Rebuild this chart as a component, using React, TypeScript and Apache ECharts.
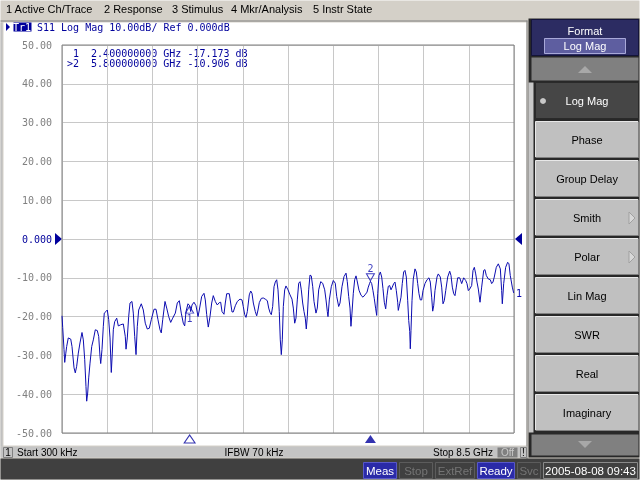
import React, { useEffect, useRef } from 'react';
import * as echarts from 'echarts';

// ---- data ----
const menuLabels = ['1 Active Ch/Trace', '2 Response', '3 Stimulus', '4 Mkr/Analysis', '5 Instr State'];
const softkeyLabels = ['Log Mag', 'Phase', 'Group Delay', 'Smith', 'Polar', 'Lin Mag', 'SWR', 'Real', 'Imaginary'];
const softkeysWithSubmenu = ['Smith', 'Polar'];
const activeFormat = 'Log Mag';

const traceHeader = 'S11 Log Mag 10.00dB/ Ref 0.000dB';
const stimulusStart = 'Start 300 kHz';
const stimulusIfbw = 'IFBW 70 kHz';
const stimulusStop = 'Stop 8.5 GHz';
const statusFlags = ['Meas', 'Stop', 'ExtRef', 'Ready', 'Svc'];
const statusLit = ['Meas', 'Ready'];
const clockText = '2005-08-08 09:43';

const yTicks = [-50, -40, -30, -20, -10, 0, 10, 20, 30, 40, 50];
const refLevel = 0;

const markers = [
  { id: '1', freq: 2.4, value: -17.173, active: false },
  { id: '2', freq: 5.8, value: -10.906, active: true },
];

// S11 trace: [GHz, dB]
const s11Trace: [number, number][] = [
  [0.0003,-19.8],[0.013,-22.8],[0.038,-28.5],[0.051,-31.8],[0.070,-29.6],[0.088,-27.7],[0.118,-25.5],[0.164,-25.8],[0.188,-27.7],[0.226,-33.2],
  [0.250,-34.5],[0.276,-32.8],[0.307,-29.4],[0.338,-26.8],[0.376,-24.1],[0.401,-26.0],[0.427,-31.1],[0.451,-38.0],[0.464,-41.8],[0.483,-39.7],
  [0.502,-35.8],[0.527,-32.0],[0.559,-27.7],[0.589,-26.0],[0.626,-23.4],[0.664,-23.6],[0.690,-25.1],[0.715,-30.3],[0.728,-32.1],[0.752,-28.5],
  [0.777,-22.5],[0.795,-19.1],[0.827,-18.7],[0.852,-18.3],[0.878,-20.8],[0.903,-25.5],[0.927,-34.4],[0.946,-29.4],[0.965,-23.4],[0.991,-21.3],
  [1.029,-20.4],[1.059,-22.4],[1.104,-22.1],[1.153,-21.9],[1.190,-25.1],[1.204,-28.4],[1.228,-25.5],[1.254,-20.0],[1.279,-16.5],[1.316,-16.1],
  [1.341,-19.1],[1.367,-25.1],[1.392,-29.8],[1.416,-22.5],[1.442,-18.3],[1.491,-16.7],[1.529,-18.3],[1.566,-21.7],[1.604,-23.2],[1.642,-23.0],
  [1.679,-20.8],[1.730,-18.1],[1.768,-18.1],[1.805,-20.8],[1.843,-23.4],[1.867,-24.2],[1.894,-20.8],[1.937,-16.1],[1.969,-17.8],[2.006,-20.0],
  [2.044,-21.5],[2.082,-20.4],[2.131,-19.1],[2.168,-16.5],[2.206,-15.9],[2.243,-19.1],[2.281,-21.7],[2.307,-22.4],[2.332,-18.7],[2.369,-16.7],
  [2.400,-17.17],[2.420,-18.7],[2.445,-17.0],[2.482,-16.3],[2.520,-17.2],[2.558,-20.0],[2.582,-18.3],
  [2.627,-14.8],[2.670,-14.0],[2.695,-15.7],[2.721,-19.5],[2.751,-22.7],[2.783,-20.0],[2.815,-16.5],[2.845,-14.6],[2.883,-16.1],[2.920,-17.0],
  [2.958,-16.4],[2.984,-16.3],[3.009,-18.7],[3.046,-19.4],[3.071,-16.5],[3.097,-14.1],[3.146,-14.1],[3.172,-16.5],[3.197,-18.8],[3.221,-18.8],
  [3.259,-17.2],[3.297,-16.1],[3.347,-15.5],[3.385,-15.7],[3.409,-17.4],[3.436,-19.5],[3.460,-20.2],[3.485,-18.7],[3.522,-14.4],[3.549,-13.4],
  [3.573,-14.0],[3.598,-16.5],[3.635,-18.7],[3.661,-19.8],[3.686,-18.3],[3.710,-16.4],[3.748,-15.3],[3.785,-15.2],[3.823,-15.5],[3.861,-15.9],
  [3.887,-17.8],[3.911,-18.9],[3.936,-19.5],[3.962,-17.4],[3.987,-12.3],[4.011,-11.1],[4.037,-10.5],[4.062,-13.1],[4.086,-18.7],[4.105,-26.0],
  [4.124,-29.8],[4.143,-26.0],[4.162,-17.4],[4.188,-13.1],[4.212,-12.1],[4.250,-13.1],[4.288,-14.4],[4.325,-15.5],[4.350,-17.8],[4.376,-21.7],
  [4.400,-20.4],[4.425,-15.7],[4.451,-11.4],[4.476,-11.0],[4.500,-13.1],[4.526,-16.5],[4.551,-18.7],[4.575,-20.4],[4.594,-23.2],[4.613,-20.0],
  [4.639,-13.1],[4.664,-9.3],[4.688,-9.5],[4.715,-12.3],[4.739,-16.1],[4.776,-19.1],[4.801,-17.8],[4.827,-13.1],[4.865,-11.0],[4.902,-11.4],
  [4.940,-13.1],[4.965,-15.7],[4.989,-18.7],[5.002,-20.0],[5.027,-15.7],[5.064,-12.3],[5.102,-10.7],[5.139,-11.4],[5.166,-14.8],[5.203,-17.4],
  [5.228,-16.5],[5.265,-12.3],[5.303,-9.7],[5.341,-8.8],[5.365,-11.0],[5.391,-14.8],[5.416,-17.8],[5.434,-22.5],[5.453,-19.1],[5.478,-14.0],
  [5.504,-10.5],[5.529,-9.5],
  [5.547,-10.6],[5.585,-13.2],[5.623,-14.5],[5.660,-15.0],[5.698,-14.4],[5.736,-13.7],[5.760,-12.4],[5.786,-11.4],[5.800,-10.91],[5.824,-11.5],
  [5.848,-13.3],[5.873,-15.4],[5.899,-18.0],[5.918,-19.7],[5.937,-14.1],[5.961,-9.4],[5.986,-8.5],[6.012,-9.8],[6.036,-12.8],[6.061,-16.3],
  [6.087,-18.0],[6.112,-14.6],[6.136,-12.2],[6.162,-12.0],[6.187,-13.1],[6.211,-12.4],[6.238,-11.5],[6.262,-11.1],[6.287,-13.3],[6.313,-16.3],
  [6.324,-18.4],[6.350,-16.7],[6.375,-15.0],[6.399,-11.5],[6.425,-8.5],[6.450,-8.1],[6.475,-9.8],[6.501,-15.9],[6.520,-21.0],[6.539,-23.8],
  [6.550,-28.3],[6.563,-23.6],[6.582,-15.9],[6.606,-10.3],[6.638,-7.7],[6.663,-8.5],[6.689,-11.5],[6.713,-14.1],[6.738,-15.7],[6.764,-15.7],
  [6.789,-13.3],[6.826,-11.5],[6.864,-10.5],[6.901,-10.0],[6.926,-11.1],[6.952,-15.0],[6.971,-18.6],[6.990,-17.2],[7.014,-13.3],[7.052,-9.8],
  [7.076,-9.0],[7.114,-9.8],[7.140,-12.4],[7.165,-16.7],[7.189,-15.9],[7.216,-13.3],[7.253,-9.8],[7.291,-8.3],[7.315,-9.4],[7.340,-12.4],
  [7.366,-14.1],[7.390,-14.6],[7.415,-12.4],[7.441,-10.0],[7.479,-10.0],[7.516,-11.5],[7.554,-10.0],[7.592,-10.7],[7.616,-11.5],[7.641,-13.3],
  [7.667,-12.9],[7.704,-12.0],[7.729,-8.1],[7.754,-7.3],[7.780,-9.0],[7.804,-11.1],[7.829,-12.9],[7.861,-16.3],[7.892,-12.4],[7.930,-8.1],
  [7.954,-7.9],[7.979,-9.4],[8.016,-10.3],[8.054,-10.5],[8.080,-11.5],[8.105,-11.1],[8.129,-9.8],[8.167,-7.3],[8.205,-6.4],[8.243,-7.7],
  [8.268,-13.3],[8.280,-16.7],[8.306,-11.5],[8.343,-7.3],[8.381,-6.0],[8.405,-6.4],[8.430,-9.4],[8.468,-12.4],[8.494,-13.9],[8.500,-14.0],
];

const TRACE = '#0c0cb0';
const NAVY = '#00009c';
const MONO = '10px "DejaVu Sans Mono", monospace';
const UI = '"Liberation Sans", Arial, sans-serif';

const txt = (x: number, y: number, text: string, fill: string, font: string, align = 'left') => ({
  type: 'text',
  x,
  y,
  silent: true,
  style: { text, fill, font, align, verticalAlign: 'middle', textAlign: align, textVerticalAlign: 'middle' },
});

const box = (x: number, y: number, w: number, h: number, fill: string, stroke?: string) => ({
  type: 'rect',
  silent: true,
  shape: { x: x + 0.5, y: y + 0.5, width: w - 1, height: h - 1 },
  style: { fill, stroke: stroke || 'none', lineWidth: 1 },
});

const bevel = (x: number, y: number, w: number, h: number) => [
  box(x, y, w, h, '#c0c0c0'),
  { type: 'polyline', silent: true, shape: { points: [[x + 0.5, y + h - 1], [x + 0.5, y + 0.5], [x + w - 1, y + 0.5]] }, style: { stroke: '#e8e8e8', lineWidth: 1 } },
  { type: 'polyline', silent: true, shape: { points: [[x + 1, y + h - 0.5], [x + w - 0.5, y + h - 0.5], [x + w - 0.5, y + 1]] }, style: { stroke: '#808080', lineWidth: 1 } },
];

const buildGraphic = () => {
  const els: any[] = [];
  // window background + menu bar
  els.push(box(0, 0, 640, 480, '#d4d0c8'));
  const menuX = [6, 104, 172, 231, 313];
  menuLabels.forEach((m, i) => els.push(txt(menuX[i], 9, m, '#000', `11px ${UI}`)));
  els.push(box(0, 20, 528, 2, '#808080'));
  // measurement window
  els.push(box(0, 22, 3, 425, '#c0c0c0'));
  els.push(box(3, 22, 524, 424, '#ffffff'));
  els.push(box(526, 20, 2, 440, '#808080'));

  // trace title
  els.push({ type: 'polygon', silent: true, shape: { points: [[6, 23], [6, 31], [10, 27]] }, style: { fill: NAVY } });
  els.push(box(13, 22, 19, 10, NAVY));
  els.push(txt(13, 27, 'Tr1', '#ffffff', MONO));
  els.push(txt(37, 27, traceHeader, NAVY, MONO));

  // marker readout
  markers.forEach((m, i) => {
    const line = `${m.active ? '>' : ' '}${m.id}  ${m.freq.toFixed(9)} GHz ${m.value.toFixed(3)} dB`;
    els.push(txt(67, 53 + i * 10, line, NAVY, MONO));
  });

  // reference level arrows
  els.push({ type: 'polygon', silent: true, shape: { points: [[55, 233], [55, 245], [62, 239]] }, style: { fill: NAVY } });
  els.push({ type: 'polygon', silent: true, shape: { points: [[522, 233], [522, 245], [515, 239]] }, style: { fill: NAVY } });

  // stimulus line
  els.push(box(0, 446, 528, 12, '#c4c4c4'));
  els.push(box(3, 447, 10, 11, 'none', '#808080'));
  els.push(txt(8, 452.5, '1', '#000', `10px ${UI}`, 'center'));
  els.push(txt(17, 452.5, stimulusStart, '#000', `10px ${UI}`));
  els.push(txt(254, 452.5, stimulusIfbw, '#000', `10px ${UI}`, 'center'));
  els.push(txt(493, 452.5, stimulusStop, '#000', `10px ${UI}`, 'right'));
  els.push(box(497, 447, 21, 11, '#808080'));
  els.push(txt(507.5, 452.5, 'Off', '#c8c8c8', `10px ${UI}`, 'center'));
  els.push(box(520, 447, 7, 11, 'none', '#808080'));
  els.push(txt(523.5, 452.5, '!', '#000', `10px ${UI}`, 'center'));

  // status bar
  els.push(box(0, 458, 640, 22, '#404040'));
  const flagX = [363, 399, 435, 477, 517];
  const flagW = [34, 34, 40, 38, 24];
  statusFlags.forEach((f, i) => {
    const lit = statusLit.includes(f);
    els.push(box(flagX[i], 462, flagW[i], 17, lit ? '#2a2aa8' : '#404040', lit ? '#5858c8' : '#5c5c5c'));
    els.push(txt(flagX[i] + flagW[i] / 2, 470.5, f, lit ? '#ffffff' : '#747474', `11.5px ${UI}`, 'center'));
  });
  els.push(box(543, 462, 95, 17, '#404040', '#8a8a8a'));
  els.push(txt(590.5, 470.5, clockText, '#ffffff', `11.5px ${UI}`, 'center'));

  // softkey panel
  els.push(box(528, 18, 112, 440, '#282828'));
  els.push(box(531, 19, 108, 37, '#2c2c62', '#14143a'));
  els.push(txt(585, 31, 'Format', '#ffffff', `11px ${UI}`, 'center'));
  els.push(box(544, 38, 82, 16, '#5e5ea0', '#a8a8d8'));
  els.push(txt(585, 46, activeFormat, '#ffffff', `11px ${UI}`, 'center'));
  els.push(box(531, 57, 108, 24, '#808080'));
  els.push({ type: 'polygon', silent: true, shape: { points: [[578, 73], [592, 73], [585, 66]] }, style: { fill: '#a8a8a8' } });
  els.push(box(528, 82, 6, 351, '#c8c8c8'));
  softkeyLabels.forEach((k, i) => {
    const top = 82 + i * 39;
    if (k === activeFormat) {
      els.push(box(535, top, 104, 37, '#464646', '#2a2a2a'));
      els.push({ type: 'circle', silent: true, shape: { cx: 543, cy: top + 19, r: 3 }, style: { fill: '#c8c8c8' } });
      els.push(txt(587, top + 19, k, '#ffffff', `11px ${UI}`, 'center'));
    } else {
      els.push(...bevel(535, top, 104, 37));
      els.push(txt(587, top + 19, k, '#000000', `11px ${UI}`, 'center'));
    }
    if (softkeysWithSubmenu.includes(k)) {
      els.push({ type: 'polygon', silent: true, shape: { points: [[629, top + 13], [629, top + 25], [635, top + 19]] }, style: { fill: '#d8d8d8', stroke: '#a0a0a0' } });
    }
  });
  els.push(box(531, 434, 108, 22, '#808080'));
  els.push({ type: 'polygon', silent: true, shape: { points: [[578, 441], [592, 441], [585, 448]] }, style: { fill: '#a8a8a8' } });
  return els;
};

const App: React.FC = () => {
  const chartRef = useRef<HTMLDivElement>(null);

  useEffect(() => {
    if (!chartRef.current) return;
    const chart = echarts.init(chartRef.current, undefined, { renderer: 'svg' });

    const option: any = {
      animation: false,
      backgroundColor: 'transparent',
      graphic: { elements: buildGraphic() },
      grid: {
        left: 62,
        top: 45,
        width: 452,
        height: 388,
        show: true,
        borderColor: '#808080',
        borderWidth: 1,
        backgroundColor: 'transparent',
        z: 5,
      },
      xAxis: {
        type: 'value',
        min: 0,
        max: 8.5,
        interval: 0.85,
        axisLine: { show: false },
        axisTick: { show: false },
        axisLabel: { show: false },
        splitLine: { lineStyle: { color: '#c8c8c8', width: 1 } },
      },
      yAxis: {
        type: 'value',
        min: yTicks[0],
        max: yTicks[yTicks.length - 1],
        interval: 10,
        axisLine: { show: false },
        axisTick: { show: false },
        splitLine: { lineStyle: { color: '#c8c8c8', width: 1 } },
        axisLabel: {
          margin: 10,
          color: '#808080',
          fontFamily: '"DejaVu Sans Mono", monospace',
          fontSize: 10,
          formatter: (v: number) => (v === refLevel ? '{ref|0.000}' : v.toFixed(2)),
          rich: { ref: { color: NAVY, fontFamily: '"DejaVu Sans Mono", monospace', fontSize: 10 } },
        },
      },
      series: [
        {
          name: 'S11',
          type: 'line',
          data: s11Trace,
          symbol: 'none',
          z: 10,
          lineStyle: { color: TRACE, width: 1 },
          endLabel: {
            show: true,
            formatter: '1',
            color: TRACE,
            distance: 2,
            fontFamily: '"DejaVu Sans Mono", monospace',
            fontSize: 10,
          },
        },
        // markers on trace
        ...markers.map((m) => ({
          type: 'scatter',
          z: 12,
          data: [[m.freq, m.value]],
          symbol: 'triangle',
          symbolSize: [8, 7],
          symbolRotate: m.active ? 180 : 0,
          symbolOffset: [0, m.active ? -4 : 4],
          itemStyle: { color: 'rgba(255,255,255,0)', borderColor: TRACE, borderWidth: 1 },
          label: {
            show: true,
            formatter: m.id,
            position: m.active ? 'top' : 'bottom',
            distance: 0,
            color: TRACE,
            fontFamily: '"DejaVu Sans Mono", monospace',
            fontSize: 10,
          },
        })),
        // stimulus markers below the grid
        ...markers.map((m) => ({
          type: 'scatter',
          z: 12,
          clip: false,
          data: [[m.freq, yTicks[0]]],
          symbol: 'triangle',
          symbolSize: [11, 8],
          symbolOffset: [0, 6],
          itemStyle: m.active
            ? { color: NAVY }
            : { color: '#ffffff', borderColor: NAVY, borderWidth: 1 },
        })),
      ],
    };

    chart.setOption(option);
    return () => chart.dispose();
  }, []);

  return <div ref={chartRef} style={{ position: 'fixed', left: 0, top: 0, width: 640, height: 480 }} />;
};

export default App;
